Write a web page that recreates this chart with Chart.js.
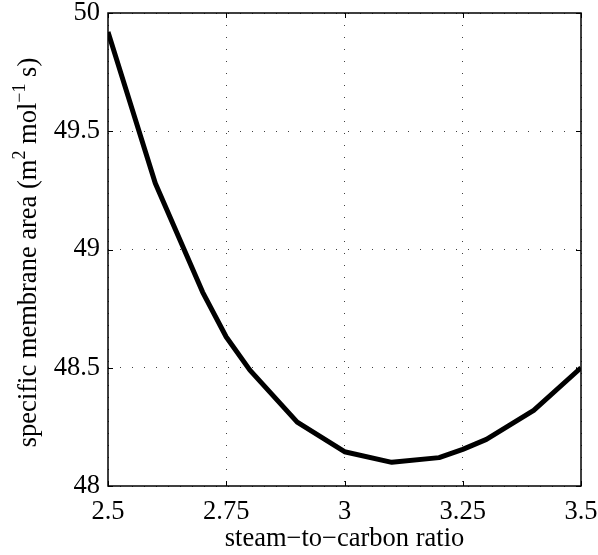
<!DOCTYPE html>
<html>
<head>
<meta charset="utf-8">
<script src="https://cdn.jsdelivr.net/npm/chart.js@4"></script>
<style>
  html, body { margin: 0; padding: 0; background: #fff; }
  #wrap { width: 598px; height: 555px; }
</style>
</head>
<body>
<div id="wrap"><canvas id="chart" width="598" height="555"></canvas></div>
<script>
// steam-to-carbon ratio vs specific membrane area
const ratios = [2.5, 2.6, 2.7, 2.75, 2.8, 2.9, 3.0, 3.1, 3.2, 3.25, 3.3, 3.4, 3.5];
const membraneArea = [49.92, 49.28, 48.82, 48.63, 48.49, 48.27, 48.145, 48.10, 48.12, 48.155, 48.197, 48.32, 48.50];

const xTicks = [2.5, 2.75, 3, 3.25, 3.5];
const yTicks = [48, 48.5, 49, 49.5, 50];

const xTitle = 'steam\u2212to\u2212carbon ratio';
const yTitleParts = [
    { text: 'specific membrane area (m', sup: false },
    { text: '2', sup: true },
    { text: ' mol', sup: false },
    { text: '\u22121', sup: true },
    { text: ' s)', sup: false }
];

const FONT = '"Liberation Serif", "Times New Roman", serif';

// box, inward ticks and axis titles, matlab style
const framePlugin = {
    id: 'frame',
    afterDraw(chart) {
        const ctx = chart.ctx;
        const a = chart.chartArea;
        const xs = chart.scales.x, ys = chart.scales.y;
        ctx.save();
        ctx.strokeStyle = '#000';
        ctx.lineWidth = 1;
        ctx.beginPath();
        xTicks.forEach(function (v) {
            const px = Math.round(xs.getPixelForValue(v)) + 0.5;
            ctx.moveTo(px, a.bottom); ctx.lineTo(px, a.bottom - 5);
            ctx.moveTo(px, a.top); ctx.lineTo(px, a.top + 5);
        });
        yTicks.forEach(function (v) {
            const py = Math.round(ys.getPixelForValue(v)) + 0.5;
            ctx.moveTo(a.left, py); ctx.lineTo(a.left + 5, py);
            ctx.moveTo(a.right, py); ctx.lineTo(a.right - 5, py);
        });
        ctx.stroke();
        ctx.lineWidth = 1.5;
        ctx.strokeRect(a.left, a.top, a.right - a.left, a.bottom - a.top);

        // x title
        ctx.fillStyle = '#000';
        ctx.font = '26.5px ' + FONT;
        ctx.textAlign = 'center';
        ctx.textBaseline = 'alphabetic';
        ctx.fillText(xTitle, (a.left + a.right) / 2, 546);

        // y title with superscripts
        const fontFor = function (p) { return (p.sup ? '18px ' : '26.5px ') + FONT; };
        let total = 0;
        yTitleParts.forEach(function (p) { ctx.font = fontFor(p); total += ctx.measureText(p.text).width; });
        ctx.translate(36, (a.top + a.bottom) / 2 + 3);
        ctx.rotate(-Math.PI / 2);
        ctx.textAlign = 'left';
        let x = -total / 2;
        yTitleParts.forEach(function (p) {
            ctx.font = fontFor(p);
            ctx.fillText(p.text, x, p.sup ? -11 : 0);
            x += ctx.measureText(p.text).width;
        });
        ctx.restore();
    }
};

function noPadding(scale) {
    scale.paddingLeft = 0;
    scale.paddingRight = 0;
    scale.paddingTop = 0;
    scale.paddingBottom = 0;
}

const ctx = document.getElementById('chart').getContext('2d');
const chart = new Chart(ctx, {
    type: 'line',
    data: {
        datasets: [{
            data: ratios.map(function (r, i) { return { x: r, y: membraneArea[i] }; }),
            borderColor: '#000',
            borderWidth: 5,
            pointRadius: 0,
            tension: 0,
            fill: false,
            borderJoinStyle: 'round',
            borderCapStyle: 'butt'
        }]
    },
    options: {
        responsive: false,
        animation: false,
        layout: { padding: { top: 13, right: 17, left: 0, bottom: 0 } },
        plugins: { legend: { display: false }, tooltip: { enabled: false } },
        scales: {
            x: {
                type: 'linear',
                min: 2.5,
                max: 3.5,
                afterBuildTicks: function (scale) { scale.ticks = xTicks.map(function (v) { return { value: v }; }); },
                afterFit: function (scale) { scale.height = 69; noPadding(scale); },
                grid: { color: 'rgba(0,0,0,0.75)', lineWidth: 1, drawTicks: false },
                border: { display: false, dash: [1, 11] },
                ticks: {
                    color: '#000',
                    padding: 13,
                    maxRotation: 0,
                    autoSkip: false,
                    font: { family: FONT, size: 26.5, lineHeight: 1 },
                    callback: function (v) { return String(v); }
                }
            },
            y: {
                type: 'linear',
                min: 48,
                max: 50,
                afterBuildTicks: function (scale) { scale.ticks = yTicks.map(function (v) { return { value: v }; }); },
                afterFit: function (scale) { scale.width = 108; noPadding(scale); },
                grid: { color: 'rgba(0,0,0,0.75)', lineWidth: 1, drawTicks: false },
                border: { display: false, dash: [1, 11] },
                ticks: {
                    color: '#000',
                    padding: 8,
                    autoSkip: false,
                    font: { family: FONT, size: 26.5, lineHeight: 1 },
                    callback: function (v) { return String(v); }
                }
            }
        }
    },
    plugins: [framePlugin]
});
</script>
</body>
</html>
